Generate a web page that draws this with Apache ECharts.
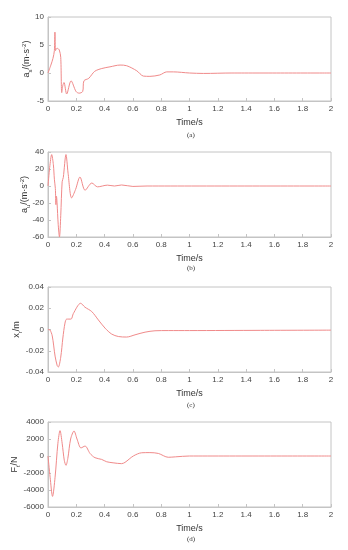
<!DOCTYPE html>
<html><head><meta charset="utf-8">
<script src="https://cdn.jsdelivr.net/npm/echarts@6/dist/echarts.min.js"></script>
<style>html,body{margin:0;padding:0;background:#fff}#c{width:348px;height:550px}</style>
</head><body><div id="c"></div>
<script>
var timeA = [0,0.02,0.035,0.045,0.049,0.053,0.058,0.066,0.08,0.09,0.097,0.105,0.113,0.132,0.163,0.198,0.22,0.245,0.254,0.288,0.33,0.38,0.438,0.509,0.556,0.627,0.674,0.72,0.79,0.839,0.886,1.0,1.1,1.3,2.0];
var valA  = [0,1.4,2.6,4.0,7.3,4.0,4.3,4.4,4.1,2.8,-3.5,-2.2,-1.7,-3.75,-1.4,-3.3,-3.6,-3.3,-1.4,-0.95,0.3,0.8,1.1,1.42,1.3,0.4,-0.55,-0.6,-0.35,0.2,0.2,0,-0.08,0,0];

var timeB = [0,0.012,0.026,0.038,0.045,0.052,0.056,0.06,0.064,0.072,0.081,0.09,0.1,0.108,0.127,0.142,0.167,0.195,0.226,0.262,0.31,0.35,0.42,0.47,0.52,0.6,0.7,2.0];
var valB  = [0,22,37,25,8,-3,-22,-12,-20,-45,-60,-35,5,10,37,15,-14,-4,10.6,-5,3.5,-1,1,0,1.2,-0.5,0,0];

var timeC = [0,0.014,0.03,0.05,0.065,0.073,0.09,0.105,0.12,0.132,0.163,0.179,0.231,0.261,0.309,0.356,0.403,0.45,0.497,0.556,0.615,0.686,0.756,0.85,1.0,1.5,2.0];
var valC  = [0,-0.0005,-0.006,-0.025,-0.034,-0.0353,-0.026,-0.008,0.006,0.0098,0.0098,0.015,0.0247,0.021,0.0169,0.009,0.0013,-0.0043,-0.0066,-0.0071,-0.005,-0.0025,-0.0012,-0.001,-0.001,-0.0008,-0.0006];

var timeD = [0,0.015,0.032,0.05,0.07,0.085,0.1,0.115,0.127,0.14,0.16,0.184,0.205,0.233,0.262,0.297,0.332,0.379,0.415,0.46,0.52,0.544,0.603,0.662,0.72,0.78,0.85,0.9,1.0,2.0];
var valD  = [0,-2500,-4750,-2500,1500,2980,1500,-500,-1100,-300,2000,2940,2000,950,1170,300,-200,-400,-680,-800,-900,-750,0,380,400,300,-150,-100,0,0];

var xTicks = {min:0,max:2,interval:0.2};
var yRanges = [[-5,10,5],[-60,40,20],[-0.04,0.04,0.02],[-6000,4000,2000]];
var yNames = ['{n|a}{sub|s}{n|/(m·s}{sup|-2}{n|)}','{n|a}{sub|u}{n|/(m·s}{sup|-2}{n|)}','{n|x}{sub|r}{n|/m}','{n|F}{sub|t}{n|/N}'];
var subtitles = ['(a)','(b)','(c)','(d)'];

function pairs(t,v){return t.map(function(x,i){return [x,v[i]];});}
var datas = [pairs(timeA,valA),pairs(timeB,valB),pairs(timeC,valC),pairs(timeD,valD)];

var tops = [17,152,287,422];
var heights = [84,85,85,85];
var nameGaps = [15,17,25,27];
var subY = [132,265,402,536];
var lineColor = '#f08a8a';
var boxColor = '#c4c4c4';
var labelColor = '#444';
var font = 'Liberation Sans';

var rich = {
  n:{fontSize:9,fontFamily:font,color:'#333'},
  sub:{fontSize:6,fontFamily:font,color:'#333',padding:[6,0,0,0]},
  sup:{fontSize:6,fontFamily:font,color:'#333',padding:[0,0,6,0]}
};

var grid=[],xAxis=[],yAxis=[],series=[],graphic=[];
for (var i=0;i<4;i++){
  grid.push({left:48,right:17,top:tops[i],height:heights[i],show:true,borderColor:boxColor,borderWidth:1,backgroundColor:'#fff',containLabel:false,outerBoundsMode:'none'});
  xAxis.push({type:'value',gridIndex:i,min:xTicks.min,max:xTicks.max,interval:xTicks.interval,
    name:'Time/s',nameLocation:'middle',nameGap:17,nameMoveOverlap:false,nameTextStyle:{fontSize:9,fontFamily:font,color:'#333'},
    axisLine:{onZero:false,lineStyle:{color:boxColor}},axisTick:{inside:true,length:3,lineStyle:{color:boxColor}},
    axisLabel:{fontSize:8,fontFamily:font,color:labelColor,margin:4,formatter:function(v){return String(Math.round(v*10)/10);}},
    splitLine:{show:false}});
  yAxis.push({type:'value',gridIndex:i,min:yRanges[i][0],max:yRanges[i][1],interval:yRanges[i][2],
    name:yNames[i],nameLocation:'middle',nameRotate:90,nameGap:nameGaps[i],nameMoveOverlap:false,nameTextStyle:{rich:rich},
    axisLine:{show:true,onZero:false,lineStyle:{color:boxColor}},axisTick:{inside:true,length:3,lineStyle:{color:boxColor}},
    axisLabel:{fontSize:8,fontFamily:font,color:labelColor,margin:4,formatter:function(v){return String(Math.round(v*1000)/1000);}},
    splitLine:{show:false}});
  series.push({type:'line',xAxisIndex:i,yAxisIndex:i,data:datas[i],smooth:0.3,showSymbol:false,
    lineStyle:{color:lineColor,width:1},animation:false});
  graphic.push({type:'text',left:187,top:subY[i],style:{text:subtitles[i],font:'7px "Liberation Serif"',fill:'#333'}});
}
var chart = echarts.init(document.getElementById('c'),null,{renderer:'canvas'});
chart.setOption({animation:false,grid:grid,xAxis:xAxis,yAxis:yAxis,series:series,graphic:graphic});
</script></body></html>
